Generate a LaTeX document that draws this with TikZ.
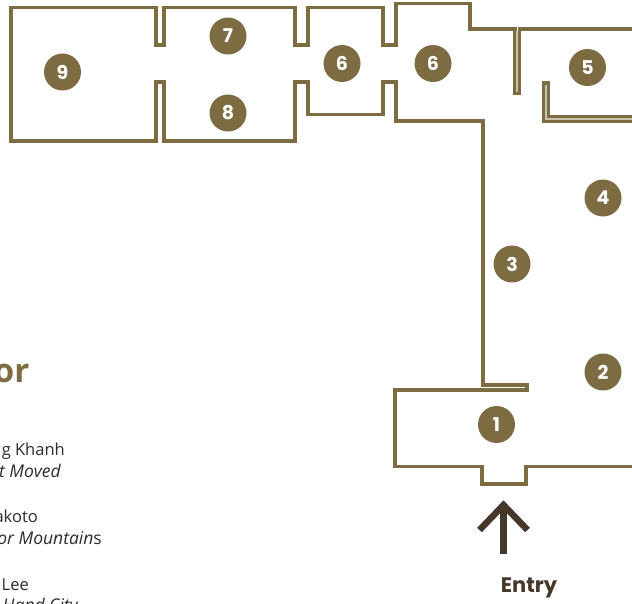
\documentclass[tikz,border=0pt]{standalone}
\usepackage{fontspec}
\setmainfont{Open Sans}
\newfontfamily\badgefont{Poppins}
\definecolor{wall}{HTML}{7D6B42}
\definecolor{wallpale}{HTML}{C9C2AC}
\definecolor{arrowbrown}{HTML}{46372B}
\definecolor{bodytext}{HTML}{2B2B2B}
\tikzset{
  wallline/.style={draw=wall,line width=3.2pt,miter limit=10},
  paleline/.style={draw=wallpale,line width=1.5pt},
  badge/.style={circle,fill=wall,minimum size=37pt,inner sep=0pt,text=white,font=\badgefont\bfseries\fontsize{19}{19}\selectfont},
  bodyline/.style={anchor=base east,inner sep=0pt,text=bodytext,font=\fontsize{16.5}{18}\selectfont},
  italicline/.style={bodyline,font=\itshape\fontsize{17.5}{18}\selectfont},
  titleline/.style={anchor=base east,inner sep=0pt,text=wall,font=\bfseries\fontsize{33}{34}\selectfont},
  entryarrow/.style={draw=arrowbrown,line width=6.5pt,miter limit=10},
}
\begin{document}
\begin{tikzpicture}[x=1pt,y=-1pt]
\useasboundingbox (0,0) rectangle (632,603);
% main outline
\draw[wallline] (632,29) -- (519.3,29) -- (519.3,93) -- (515,93) -- (515,29) -- (470,29) -- (470,3.5) -- (396,3.5) -- (396,45) -- (383,45) -- (383,7.5) -- (308,7.5) -- (308,45) -- (295,45) -- (295,7.5) -- (164,7.5) -- (164,45) -- (156,45) -- (156,7.5) -- (11,7.5) -- (11,141) -- (156,141) -- (156,82) -- (164,82) -- (164,141) -- (295,141) -- (295,82) -- (308,82) -- (308,114.5) -- (383,114.5) -- (383,82) -- (396,82) -- (396,121) -- (483,121) -- (483,385) -- (527,385) -- (527,390) -- (395,390) -- (395,466.5) -- (482,466.5) -- (482,484) -- (526,484) -- (526,466.5) -- (632,466.5);
% room 5 wall
\draw[wallline] (632,116.6) -- (548,116.6) -- (548,83) -- (543.7,83) -- (543.7,121) -- (632,121);
% pale centres of the double walls
\draw[paleline] (517.15,30.5) -- (517.15,91.5);
\draw[paleline] (545.85,84.5) -- (545.85,118.8) -- (632,118.8);
% badges
\node[badge] (n9) at (62.5,72) {9};
\node[badge] (n7) at (228,36) {7};
\node[badge] (n8) at (228,113) {8};
\node[badge] (n6a) at (342,63.5) {6};
\node[badge] (n6b) at (433,63.5) {6};
\node[badge] (n5) at (587.5,67.5) {5};
\node[badge] (n4) at (603,198) {4};
\node[badge] (n3) at (512,264) {3};
\node[badge] (n2) at (603,372) {2};
\node[badge] (n1) at (496.5,424.5) {1};
% entry arrow
\coordinate (tip) at (503.5,505);
\coordinate (tail) at (503.5,554);
\coordinate (armL) at (479.5,530);
\coordinate (armR) at (527.5,530);
\draw[entryarrow] (tail) -- (tip);
\draw[entryarrow] (armL) -- (tip) -- (armR);
\node[anchor=base,inner sep=0pt,text=arrowbrown,font=\badgefont\bfseries\fontsize{21}{21}\selectfont] (entry) at (529,592) {Entry};
% clipped legend text
\node[titleline] (title) at (29.5,382) {or};
\node[bodyline] (l1) at (65,455) {g Khanh};
\node[italicline] (l2) at (61,477) {t Moved};
\node[bodyline] (l3) at (38,522) {akoto};
\node[italicline] (l4) at (102,544) {or Mountain\upshape s};
\node[bodyline] (l5) at (29,590) {Lee};
\node[italicline] (l6) at (78,611) {Hand City};
\end{tikzpicture}
\end{document}
